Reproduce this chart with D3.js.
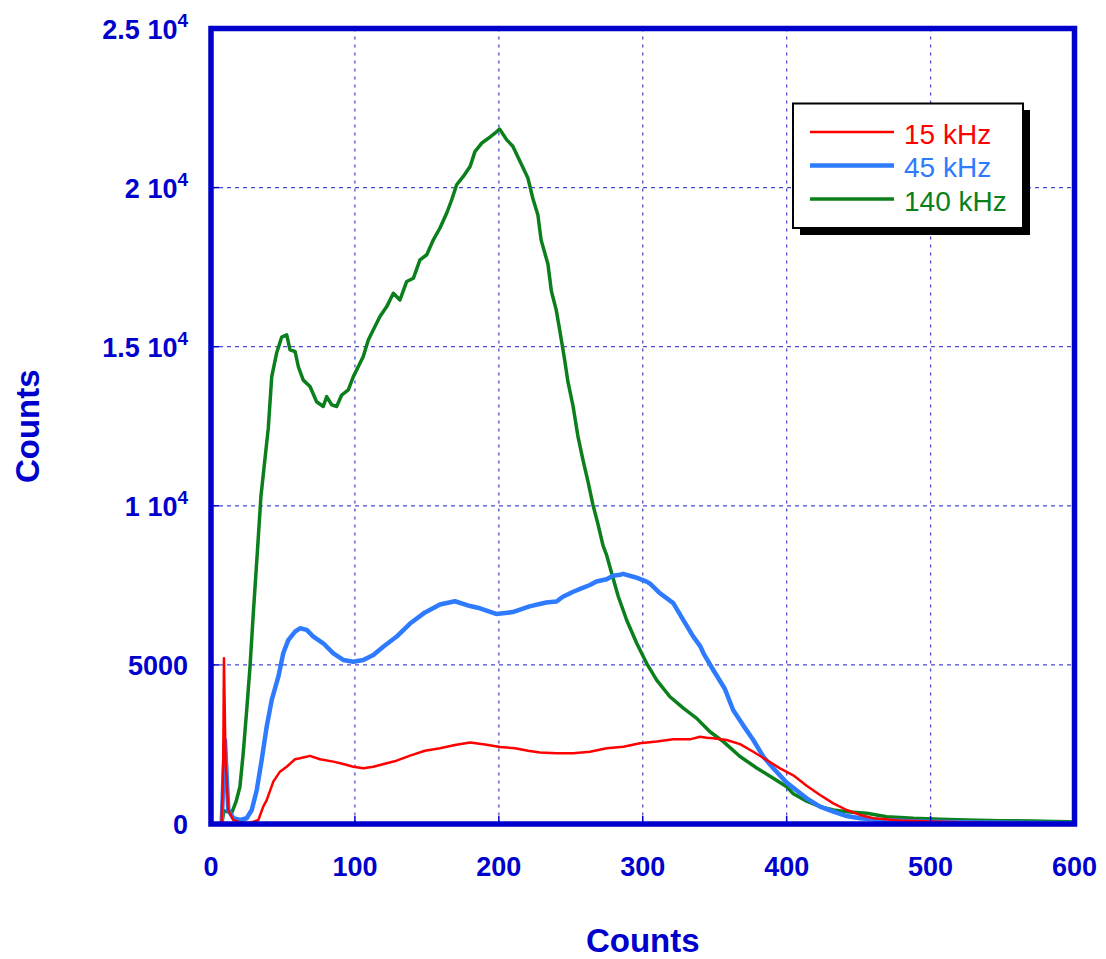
<!DOCTYPE html>
<html>
<head>
<meta charset="utf-8">
<script src="https://cdn.jsdelivr.net/npm/d3@7"></script>
<style>
  body { margin: 0; background: #fff; }
  svg { display: block; font-family: "Liberation Sans", Arial, sans-serif; }
</style>
</head>
<body>
<svg id="chart"></svg>
<script>
const width = 1106;
const height = 959;

// spectra: [channel, counts]
const counts15 = [
  [7.4, 0], [8.5, 2000], [9.0, 5210], [10.1, 2000], [12.0, 440], [15.5, 125], [20.1, 50], [27.1, 30],
  [32.9, 125], [36.3, 545], [38.7, 750], [43.3, 1330], [47.9, 1645], [52.6, 1800], [58.4, 2035],
  [61.8, 2065], [68.8, 2140], [75.7, 2035], [85.0, 1960], [91.9, 1885], [98.9, 1800], [105.8, 1750],
  [112.8, 1800], [122.1, 1910], [129.0, 1990], [138.3, 2150], [148.7, 2300], [159.1, 2380],
  [169.5, 2480], [180, 2560], [190.4, 2500], [200.8, 2420], [211.2, 2380], [220.3, 2300],
  [228.6, 2250], [240.2, 2220], [251.7, 2220], [263.3, 2270], [274.9, 2380], [286.5, 2430],
  [298.1, 2535], [309.7, 2590], [321.2, 2660], [332.8, 2660], [339.8, 2740], [344.4, 2710],
  [349.0, 2695], [358.3, 2640], [367.6, 2510], [376.8, 2270], [386.1, 2010], [395.4, 1750],
  [404.6, 1530], [413.9, 1200], [423.2, 910], [432.4, 650], [441.7, 440], [451, 285], [460.2, 180],
  [478.7, 110], [513.5, 60], [548, 35], [600, 15]
];

const counts45 = [
  [7.4, 0], [9.7, 2640], [12.0, 440], [15.5, 180], [20.1, 125], [24.8, 180], [28.3, 440], [31.8, 1070],
  [35.2, 2010], [38.7, 3060], [42.2, 3900], [46.8, 4630], [50.2, 5365], [53.7, 5780], [58.4, 6045],
  [61.8, 6150], [66.5, 6100], [71.1, 5890], [78.0, 5680], [85.0, 5365], [91.9, 5155], [98.9, 5100],
  [105.8, 5155], [112.8, 5310], [119.7, 5570], [129.0, 5890], [138.3, 6300], [148.7, 6650],
  [159.1, 6900], [169.5, 7000], [180, 6850], [186.9, 6780], [198.1, 6600], [209.7, 6660],
  [221.3, 6840], [232.9, 6960], [240.1, 6990], [244.5, 7140], [251.7, 7300], [256.1, 7380],
  [263.3, 7510], [267.8, 7620], [274.9, 7690], [279.4, 7800], [284.2, 7830], [286.3, 7860],
  [293.4, 7770], [295.6, 7740], [302.7, 7616], [304.9, 7560], [312, 7250], [321.2, 6940],
  [328.2, 6410], [335.1, 5890], [339.8, 5600], [342.2, 5365], [349.0, 4840], [357, 4250],
  [362.8, 3583], [369.8, 3100], [376.8, 2640], [383.8, 2115], [390.7, 1750], [400, 1300],
  [407, 1050], [413.9, 808], [423.2, 545], [432.4, 387], [441.7, 250], [451, 180], [464.8, 125],
  [492.6, 80], [534.3, 50], [576, 30], [600, 20]
];

const counts140 = [
  [7.4, 0], [9.0, 420], [11.8, 380], [14.4, 350], [17.4, 700], [20.1, 1170], [22.4, 2230], [24.8, 3580],
  [27.1, 4940], [29.4, 6630], [32, 8400], [34.7, 10300], [39.8, 12440], [42.2, 14060], [45.6, 14800],
  [49.1, 15300], [52.6, 15370], [54.9, 14900], [58.4, 14850], [60.7, 14370], [64.1, 13950],
  [68.8, 13750], [73.4, 13270], [78.0, 13120], [80.4, 13430], [83.9, 13170], [87.3, 13120],
  [90.8, 13480], [95.4, 13640], [98.9, 14060], [102.3, 14370], [105.8, 14690], [109.3, 15210],
  [112.8, 15530], [117.4, 15950], [122.1, 16260], [126.7, 16680], [131.3, 16470], [136.0, 17050],
  [140.6, 17150], [145.2, 17730], [149.9, 17890], [154.5, 18360], [159.1, 18730], [163.8, 19200],
  [167.2, 19610], [170.7, 20090], [175.3, 20350], [180.0, 20660], [183.4, 21130], [188.1, 21400],
  [192.7, 21550], [197.3, 21710], [200.5, 21840], [205.5, 21500], [209.7, 21300], [215.5, 20750],
  [220.2, 20300], [223.7, 19650], [227.1, 19150], [229.4, 18350], [234.1, 17600], [236.5, 16750],
  [239.9, 16150], [242.2, 15550], [245.7, 14600], [248.0, 13900], [251.5, 13150], [254.9, 12200],
  [258.4, 11450], [262.0, 10750], [265.4, 10030], [268.9, 9420], [272.4, 8750], [274.9, 8450],
  [278.4, 7880], [283.0, 7150], [288.8, 6410], [295.8, 5680], [302.7, 5050], [309.7, 4520],
  [318.9, 4000], [328.2, 3640], [337.5, 3320], [346.7, 2900], [356.0, 2590], [367.6, 2120],
  [379.2, 1760], [390.7, 1435], [400.0, 1170], [404.6, 950], [413.9, 720], [423.2, 545],
  [432.4, 440], [441.7, 385], [455.6, 335], [469.5, 230], [488, 180], [506.5, 150], [525, 125],
  [548.2, 105], [571.2, 95], [594.6, 70], [600, 60]
];

const seriesNames = ["15 kHz", "45 kHz", "140 kHz"];
const seriesColors = ["#ff0000", "#2f7bff", "#0b7f1b"];
const seriesWidths = [2.5, 4.5, 3.5];

const xTicks = [0, 100, 200, 300, 400, 500, 600];
const yTicks = [0, 5000, 10000, 15000, 20000, 25000];
const yTickText = ["0", "5000", "1 10", "1.5 10", "2 10", "2.5 10"];
const yTickExp = ["", "", "4", "4", "4", "4"];

const axisBlue = "#0000cc";
const gridBlue = "#4a4ad8";

let svg = d3.select("#chart").attr("width", width).attr("height", height);

const x = d3.scaleLinear().domain([0, 600]).range([211, 1074.5]);
const y = d3.scaleLinear().domain([0, 25000]).range([824, 28.5]);

// grid
svg.append("g").selectAll("line").data(xTicks.slice(1, -1)).join("line")
  .attr("x1", d => x(d)).attr("x2", d => x(d))
  .attr("y1", y(25000)).attr("y2", y(0))
  .attr("stroke", gridBlue).attr("stroke-width", 1.3).attr("stroke-dasharray", "3,5");
svg.append("g").selectAll("line").data(yTicks.slice(1, -1)).join("line")
  .attr("x1", x(0)).attr("x2", x(600))
  .attr("y1", d => y(d)).attr("y2", d => y(d))
  .attr("stroke", gridBlue).attr("stroke-width", 1.3).attr("stroke-dasharray", "4,4");

// curves
svg.append("clipPath").attr("id", "plotclip").append("rect")
  .attr("x", x(0)).attr("y", y(25000)).attr("width", x(600) - x(0)).attr("height", y(0) - y(25000));

const line = d3.line().x(d => x(d[0])).y(d => y(d[1]));
const allSeries = [counts15, counts45, counts140];
const drawOrder = [2, 1, 0];
drawOrder.forEach(i => {
  svg.append("path")
    .attr("d", line(allSeries[i]))
    .attr("fill", "none")
    .attr("stroke", seriesColors[i])
    .attr("stroke-width", seriesWidths[i])
    .attr("stroke-linejoin", "round")
    .attr("clip-path", "url(#plotclip)");
});

// inner tick marks
svg.append("g").selectAll("line").data(yTicks).join("line")
  .attr("x1", x(0)).attr("x2", x(0) + 8)
  .attr("y1", d => y(d)).attr("y2", d => y(d))
  .attr("stroke", axisBlue).attr("stroke-width", 1.5);
svg.append("g").selectAll("line").data(xTicks).join("line")
  .attr("x1", d => x(d)).attr("x2", d => x(d))
  .attr("y1", y(0)).attr("y2", y(0) - 8)
  .attr("stroke", axisBlue).attr("stroke-width", 1.5);

// frame
svg.append("rect")
  .attr("x", x(0)).attr("y", y(25000))
  .attr("width", x(600) - x(0)).attr("height", y(0) - y(25000))
  .attr("fill", "none").attr("stroke", axisBlue).attr("stroke-width", 5.5);

// x tick labels
svg.append("g").selectAll("text").data(xTicks).join("text")
  .attr("x", d => x(d)).attr("y", 876)
  .attr("text-anchor", "middle")
  .attr("font-size", 27).attr("font-weight", "bold").attr("fill", axisBlue)
  .text(d => d);

// y tick labels with exponent
const yLab = svg.append("g").selectAll("text").data(yTicks).join("text")
  .attr("x", 188).attr("y", d => y(d) + 10)
  .attr("text-anchor", "end")
  .attr("font-size", 27).attr("font-weight", "bold").attr("fill", axisBlue);
yLab.append("tspan").text((d, i) => yTickText[i]);
yLab.append("tspan")
  .attr("dy", -12).attr("font-size", 19)
  .text((d, i) => yTickExp[i]);

// axis titles
svg.append("text")
  .attr("x", (x(0) + x(600)) / 2).attr("y", 952)
  .attr("text-anchor", "middle")
  .attr("font-size", 33).attr("font-weight", "bold").attr("fill", axisBlue)
  .text("Counts");
svg.append("text")
  .attr("transform", `translate(38.5,${(y(0) + y(25000)) / 2}) rotate(-90)`)
  .attr("text-anchor", "middle")
  .attr("font-size", 33).attr("font-weight", "bold").attr("fill", axisBlue)
  .text("Counts");

// legend
const lg = svg.append("g");
lg.append("rect").attr("x", 800).attr("y", 110).attr("width", 230).attr("height", 125).attr("fill", "#000");
lg.append("rect").attr("x", 793).attr("y", 103.5).attr("width", 230).attr("height", 124.5)
  .attr("fill", "#fff").attr("stroke", "#000").attr("stroke-width", 2);
seriesNames.forEach((name, i) => {
  const ly = 132 + i * 33.5;
  lg.append("line").attr("x1", 810).attr("x2", 894).attr("y1", ly).attr("y2", ly)
    .attr("stroke", seriesColors[i]).attr("stroke-width", seriesWidths[i]);
  lg.append("text").attr("x", 904).attr("y", ly + 11.5)
    .attr("font-size", 28).attr("fill", seriesColors[i])
    .text(name);
});
</script>
</body>
</html>
